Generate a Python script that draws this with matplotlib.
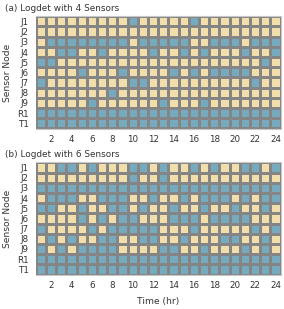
import numpy as np
import matplotlib
matplotlib.use("Agg")
import matplotlib.pyplot as plt
from matplotlib.colors import ListedColormap

rows = ["J1", "J2", "J3", "J4", "J5", "J6", "J7", "J8", "J9", "R1", "T1"]
hours = list(range(1, 25))
xticks = [2, 4, 6, 8, 10, 12, 14, 16, 18, 20, 22, 24]
titles = ["(a) Logdet with 4 Sensors", "(b) Logdet with 6 Sensors"]

# hours at which each node is selected (blue)
sel_4 = {
    "J1": [10, 16],
    "J2": [],
    "J3": [2, 3, 4, 5, 6, 7, 8, 9, 11, 12, 13, 14, 15, 18, 19, 20, 22, 23, 24],
    "J4": [3, 4, 7, 12, 15, 17, 21, 24],
    "J5": [1, 2, 23],
    "J6": [5, 9, 14, 16, 18, 19, 20, 21],
    "J7": [1, 10, 11, 22],
    "J8": [8],
    "J9": [6, 13, 17],
    "R1": hours,
    "T1": hours,
}
sel_6 = {
    "J1": [3, 4, 6, 10, 11, 13, 16, 18, 21, 22, 24],
    "J2": [10, 13],
    "J3": hours,
    "J4": [2, 3, 4, 7, 8, 9, 12, 15, 17, 18, 19, 21, 23, 24],
    "J5": [1, 2, 5, 8, 9, 11, 14, 17, 20, 23],
    "J6": [5, 7, 9, 10, 14, 15, 16, 18, 19, 20, 21],
    "J7": [1, 6, 8, 9, 10, 11, 12, 16, 22, 24],
    "J8": [2, 4, 7, 8, 11, 12, 15, 19, 20, 23],
    "J9": [1, 3, 5, 6, 7, 8, 13, 14, 17, 21, 23],
    "R1": hours,
    "T1": hours,
}

yellow = "#F2DEAB"
blue = "#75AABF"
edge = "#858585"
cmap = ListedColormap([yellow, blue])

W, H = 284, 309
fig = plt.figure(figsize=(W / 100, H / 100), dpi=100)
left = 35.7 / W
width = 245 / W
height = 112.2 / H
tops = [16.3, 162.3]

for k, (sel, title, top) in enumerate(zip([sel_4, sel_6], titles, tops)):
    bottom = 1 - (top + 112.2) / H
    ax = fig.add_axes([left, bottom, width, height])
    M = np.array([[1 if h in sel[r] else 0 for h in hours] for r in rows])
    xe = np.arange(0.5, 25, 1)
    ye = np.arange(-0.5, len(rows), 1)
    ax.pcolormesh(xe, ye, M, cmap=cmap, vmin=0, vmax=1,
                  edgecolors=edge, linewidth=0.75)
    ax.set_xlim(0.5, 24.5)
    ax.set_ylim(len(rows) - 0.5, -0.5)
    ax.set_yticks(range(len(rows)))
    ax.set_yticklabels(rows, fontsize=6.3, color="#333333")
    ax.set_xticks(xticks)
    ax.set_xticklabels([str(t) for t in xticks], fontsize=6.3, color="#333333")
    ax.tick_params(length=0, pad=5)
    for s in ax.spines.values():
        s.set_color("#c8c8c8")
        s.set_linewidth(0.8)
    ax.spines["left"].set_visible(False)
    ax.set_ylabel("Sensor Node", fontsize=6.6, color="#333333", labelpad=4)
    fig.text(5 / W, 1 - (top - 8) / H, title, fontsize=6.4, color="#333333",
             ha="left", va="center")
    if k == 1:
        ax.set_xlabel("Time (hr)", fontsize=6.6, color="#333333", labelpad=5)

fig.savefig("out.png", dpi=100)
